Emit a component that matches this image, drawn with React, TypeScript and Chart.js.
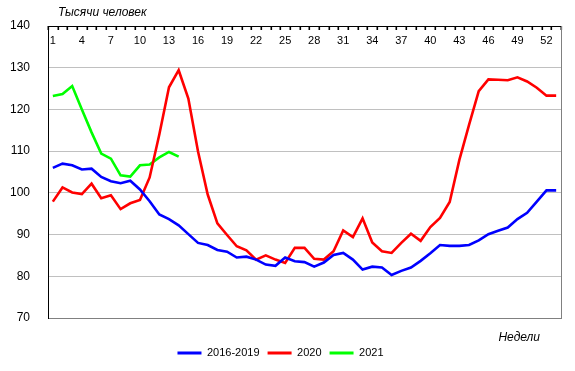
import React, { useEffect, useRef } from 'react';
import { Chart, registerables } from 'chart.js';

Chart.register(...registerables);

const WEEKS = [
  '1', '2', '3', '4', '5', '6', '7', '8', '9', '10',
  '11', '12', '13', '14', '15', '16', '17', '18', '19', '20',
  '21', '22', '23', '24', '25', '26', '27', '28', '29', '30',
  '31', '32', '33', '34', '35', '36', '37', '38', '39', '40',
  '41', '42', '43', '44', '45', '46', '47', '48', '49', '50',
  '51', '52', '53',
];

const SERIES_2016_2019 = [
  106.0, 107.0, 106.6, 105.6, 105.8, 103.8, 102.8, 102.3, 102.9, 100.8,
  98.0, 94.8, 93.7, 92.2, 90.1, 88.0, 87.5, 86.3, 85.9, 84.5,
  84.7, 84.0, 82.8, 82.5, 84.5, 83.6, 83.4, 82.3, 83.3, 85.1,
  85.6, 84.0, 81.6, 82.3, 82.1, 80.3, 81.3, 82.1, 83.7, 85.5,
  87.5, 87.3, 87.3, 87.5, 88.6, 90.1, 90.9, 91.7, 93.7, 95.2,
  97.9, 100.6, 100.6,
];

const SERIES_2020 = [
  97.9, 101.3, 100.1, 99.7, 102.2, 98.7, 99.4, 96.1, 97.5, 98.3,
  103.7, 114.0, 125.3, 129.4, 122.6, 109.9, 99.6, 92.7, 89.9, 87.2,
  86.2, 84.0, 85.0, 84.0, 83.2, 86.8, 86.8, 84.2, 84.0, 86.0,
  91.0, 89.4, 93.9, 88.1, 86.0, 85.6, 88.0, 90.2, 88.5, 91.8,
  94.0, 97.8, 107.9, 116.3, 124.4, 127.2, 127.1, 127.0, 127.7, 126.7,
  125.2, 123.3, 123.3,
];

const SERIES_2021 = [
  123.2, 123.7, 125.6, 120.0, 114.5, 109.4, 108.2, 104.2, 103.9, 106.6,
  106.8, 108.5, 109.8, 108.7,
];

const SERIES_NAMES = ['2016-2019', '2020', '2021'];
const SERIES_COLORS = ['#0000FF', '#FF0000', '#00FF00'];

const Y_MIN = 70;
const Y_MAX = 140;
const Y_STEP = 10;
const X_LABEL_EVERY = 3;

const Y_TITLE = 'Тысячи человек';
const X_TITLE = 'Недели';

const FONT = '"Liberation Sans", Arial, sans-serif';

const decorPlugin = {
  id: 'decor',
  afterDraw(chart: any) {
    const ctx = chart.ctx;
    const area = chart.chartArea;
    const top = Math.round(area.top);
    const bottom = Math.round(area.bottom);
    const step = (area.right - area.left) / WEEKS.length;
    ctx.save();
    ctx.globalAlpha = 1;
    ctx.globalCompositeOperation = 'source-over';
    ctx.fillStyle = 'rgb(0,0,0)';
    for (let i = 0; i <= WEEKS.length; i++) {
      const px = Math.round(area.left + i * step);
      ctx.fillRect(px - 0.5, top, 1.6, 4);
    }
    ctx.fillStyle = '#808080';
    ctx.fillRect(Math.round(area.right), top, 1, bottom - top + 1);
    ctx.fillStyle = '#000';
    ctx.font = `italic 12px ${FONT}`;
    ctx.textBaseline = 'middle';
    ctx.textAlign = 'left';
    ctx.fillText(Y_TITLE, 58, 13);
    ctx.textAlign = 'right';
    ctx.fillText(X_TITLE, 540, 338);
    ctx.restore();
  },
};

export default function App() {
  const ref = useRef<HTMLCanvasElement | null>(null);

  useEffect(() => {
    if (!ref.current) return;
    const all = [SERIES_2016_2019, SERIES_2020, SERIES_2021];
    const chart = new Chart(ref.current, {
      type: 'line',
      data: {
        labels: WEEKS,
        datasets: all.map((d, i) => ({
          label: SERIES_NAMES[i],
          data: d,
          borderColor: SERIES_COLORS[i],
          backgroundColor: SERIES_COLORS[i],
          borderWidth: 2.6,
          pointRadius: 0,
          tension: 0,
          fill: false,
          xAxisID: 'x',
          yAxisID: 'y',
        })),
      },
      options: {
        responsive: false,
        animation: false,
        events: [],
        layout: { padding: { left: 0, right: 14, top: 26, bottom: 2.5 } },
        plugins: {
          title: { display: false },
          tooltip: { enabled: false },
          legend: {
            display: true,
            position: 'bottom',
            labels: {
              boxWidth: 24,
              boxHeight: 3,
              padding: 8,
              color: '#000',
              font: { family: FONT, size: 11 },
              generateLabels: (c: any) =>
                c.data.datasets.map((ds: any, i: number) => ({
                  text: ds.label,
                  fillStyle: ds.borderColor,
                  strokeStyle: ds.borderColor,
                  lineWidth: 0,
                  hidden: false,
                  datasetIndex: i,
                  fontColor: '#000',
                })),
            },
          },
        },
        scales: {
          x: {
            type: 'category',
            position: 'top',
            offset: true,
            afterFit: (s: any) => {
              s.height = 0;
            },
            grid: { display: false, drawTicks: false },
            border: { display: true, color: '#000', width: 1 },
            ticks: {
              autoSkip: false,
              maxRotation: 0,
              minRotation: 0,
              mirror: true,
              padding: 8,
              color: '#000',
              font: { family: FONT, size: 11 },
              callback: (_v: any, i: number) => (i % X_LABEL_EVERY === 0 ? WEEKS[i] : ''),
            },
          },
          x2: {
            type: 'category',
            position: 'bottom',
            afterFit: (s: any) => {
              s.height = 21.5;
            },
            grid: { display: false },
            border: { display: false },
            ticks: { display: false },
          },
          y: {
            type: 'linear',
            min: Y_MIN,
            max: Y_MAX,
            afterFit: (s: any) => {
              s.width = 48;
            },
            grid: {
              drawTicks: false,
              color: (ctx: any) =>
                ctx.tick && ctx.tick.value === Y_MAX
                  ? '#000'
                  : ctx.tick && ctx.tick.value === Y_MIN
                  ? '#808080'
                  : '#C0C0C0',
            },
            border: { display: true, color: '#000', width: 1 },
            ticks: {
              stepSize: Y_STEP,
              padding: 18,
              color: '#000',
              font: { family: FONT, size: 12 },
            },
          },
        },
      },
      plugins: [decorPlugin],
    } as any);
    return () => chart.destroy();
  }, []);

  return (
    <div style={{ position: 'fixed', left: 0, top: 0, width: 575, height: 371, background: '#fff' }}>
      <canvas ref={ref} width={575} height={371} style={{ display: 'block' }} />
    </div>
  );
}
